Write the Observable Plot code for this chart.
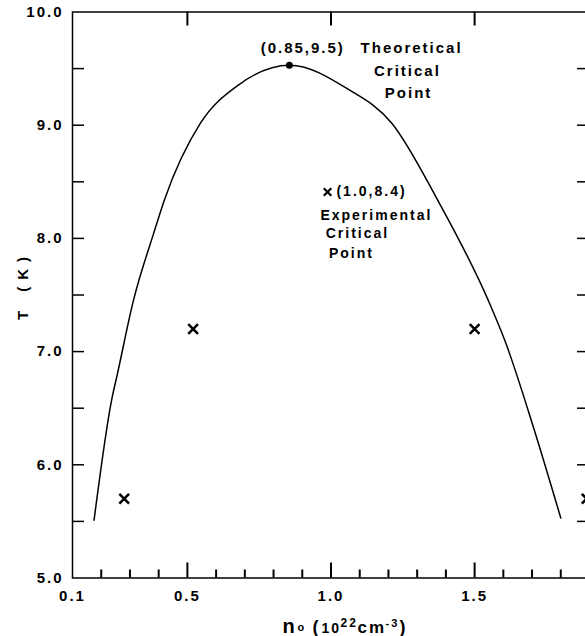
<!DOCTYPE html>
<html>
<head>
<meta charset="utf-8">
<script src="https://cdn.jsdelivr.net/npm/d3@7"></script>
<script src="https://cdn.jsdelivr.net/npm/@observablehq/plot@0.6"></script>
<style>
  html, body { margin: 0; padding: 0; background: #fff; overflow: hidden; }
</style>
</head>
<body>
<div id="chart"></div>
<script>
// Theoretical coexistence curve (n0 in 10^22 cm^-3, T in K)
const curveN = [0.175, 0.236, 0.257, 0.312, 0.382, 0.420, 0.546, 0.675, 0.856, 1.058, 1.211, 1.371, 1.548, 1.605, 1.705, 1.800];
const curveT = [5.51, 6.57, 6.81, 7.45, 8.04, 8.34, 9.02, 9.35, 9.53, 9.32, 9.02, 8.34, 7.45, 7.10, 6.33, 5.53];

// Experimental points (crosses)
const expN = [0.28, 0.52, 1.5, 1.89];
const expT = [5.70, 7.20, 7.20, 5.70];

// Critical points
const theoCrit = {n: 0.855, T: 9.53};
const expCrit = {n: 0.988, T: 8.41};

// Ticks
const xTickLabels = [0.1, 0.5, 1.0, 1.5];
const xMajorTicks = [0.5, 1.0, 1.5];
const xMinorTicks = [0.2, 0.3, 0.4, 0.6, 0.7, 0.8, 0.9, 1.1, 1.2, 1.3, 1.4, 1.6, 1.7, 1.8];
const yTickLabels = [5.0, 6.0, 7.0, 8.0, 9.0, 10.0];
const yTicks = [5.5, 6.0, 6.5, 7.0, 7.5, 8.0, 8.5, 9.0, 9.5];

// Annotation texts
const theoStartLabels = [
  {n: 0.755, T: 9.68, text: "(0.85,9.5)"},
  {n: 1.103, T: 9.68, text: "Theoretical"}
];
const theoMidLabels = [
  {n: 1.266, T: 9.474, text: "Critical"},
  {n: 1.270, T: 9.28, text: "Point"}
];
const expStartLabels = [
  {n: 1.019, T: 8.41, text: "(1.0,8.4)"}
];
const expMidLabels = [
  {n: 1.158, T: 8.20, text: "Experimental"},
  {n: 1.092, T: 8.04, text: "Critical"},
  {n: 1.071, T: 7.87, text: "Point"}
];

const curve = curveN.map((n, i) => ({n, T: curveT[i]}));
const exp = expN.map((n, i) => ({n, T: expT[i]}));

const W = 600, H = 636, mL = 72, mR = 11, mT = 11.5, mB = 58.5;
const fw = W - mL - mR, fh = H - mT - mB;
const pxT = 5 / fh; // one pixel in T units, for inward tick lengths
const bold = {fontWeight: "bold", fill: "black"};
const lab = (t, dx, dy, fontSize) => Plot.text([t], {frameAnchor: "bottom-left", dx, dy, textAnchor: "start", lineAnchor: "bottom", fontSize, text: d => d, ...bold});

const chart = Plot.plot({
  width: W,
  height: H,
  marginLeft: mL,
  marginRight: mR,
  marginTop: mT,
  marginBottom: mB,
  style: {fontFamily: "'Liberation Sans', Arial, Helvetica, sans-serif", letterSpacing: "2px", background: "#fff", overflow: "visible", maxWidth: "none"},
  x: {domain: [0.1, 1.9], axis: null},
  y: {domain: [5, 10], axis: null},
  marks: [
    // bottom ticks (inward)
    Plot.ruleX(xMinorTicks, {x: d => d, y1: 5, y2: 5 + 8 * pxT, stroke: "black", strokeWidth: 2}),
    Plot.ruleX(xMajorTicks, {x: d => d, y1: 5, y2: 5 + 15 * pxT, stroke: "black", strokeWidth: 2}),
    // top ticks (inward)
    Plot.ruleX(xMajorTicks, {x: d => d, y1: 10, y2: 10 - 14 * pxT, stroke: "black", strokeWidth: 2}),
    // left / right ticks
    Plot.ruleY(yTicks, {y: d => d, insetRight: fw - 12, stroke: "black", strokeWidth: 1.5}),
    Plot.ruleY(yTicks, {y: d => d, insetLeft: fw - 12, stroke: "black", strokeWidth: 1.5}),
    Plot.frame({stroke: "black", strokeWidth: 1.5}),
    // tick labels
    Plot.text(xTickLabels, {x: d => d, frameAnchor: "bottom", dy: 23, text: d => d.toFixed(1), fontSize: 15, ...bold}),
    Plot.text(yTickLabels, {y: d => d, frameAnchor: "left", dx: -9, textAnchor: "end", text: d => d.toFixed(1), fontSize: 15, ...bold}),
    // x axis label: n_o (10^22 cm^-3)
    lab("n", 210, 54.5, 20),
    lab("o", 225, 52.5, 11),
    lab("(", 240, 55, 18),
    lab("10", 249, 54.5, 14),
    lab("22", 268, 48.5, 12),
    lab("cm", 285, 54.5, 17),
    lab("-3", 313, 48.5, 11),
    lab(")", 327, 55, 18),
    // y axis label
    Plot.text(["T\u2003(\u2009K\u2009)"], {frameAnchor: "left", dx: -49, dy: 25, rotate: -90, fontSize: 15, text: d => d, ...bold}),
    // theoretical curve
    Plot.line(curve, {x: "n", y: "T", curve: "monotone-x", stroke: "black", strokeWidth: 1.5}),
    Plot.dot([theoCrit], {x: "n", y: "T", r: 3.5, fill: "black"}),
    // experimental crosses
    Plot.dot(exp, {x: "n", y: "T", symbol: "times", r: 4.5, stroke: "black", strokeWidth: 2.5}),
    Plot.dot([expCrit], {x: "n", y: "T", symbol: "times", r: 3.5, stroke: "black", strokeWidth: 2.2}),
    // annotations
    Plot.text(theoStartLabels, {x: "n", y: "T", text: "text", textAnchor: "start", fontSize: 15, ...bold}),
    Plot.text(theoMidLabels, {x: "n", y: "T", text: "text", textAnchor: "middle", fontSize: 15, ...bold}),
    Plot.text(expStartLabels, {x: "n", y: "T", text: "text", textAnchor: "start", fontSize: 14, ...bold}),
    Plot.text(expMidLabels, {x: "n", y: "T", text: "text", textAnchor: "middle", fontSize: 14, ...bold})
  ]
});
document.getElementById("chart").appendChild(chart);
</script>
</body>
</html>
